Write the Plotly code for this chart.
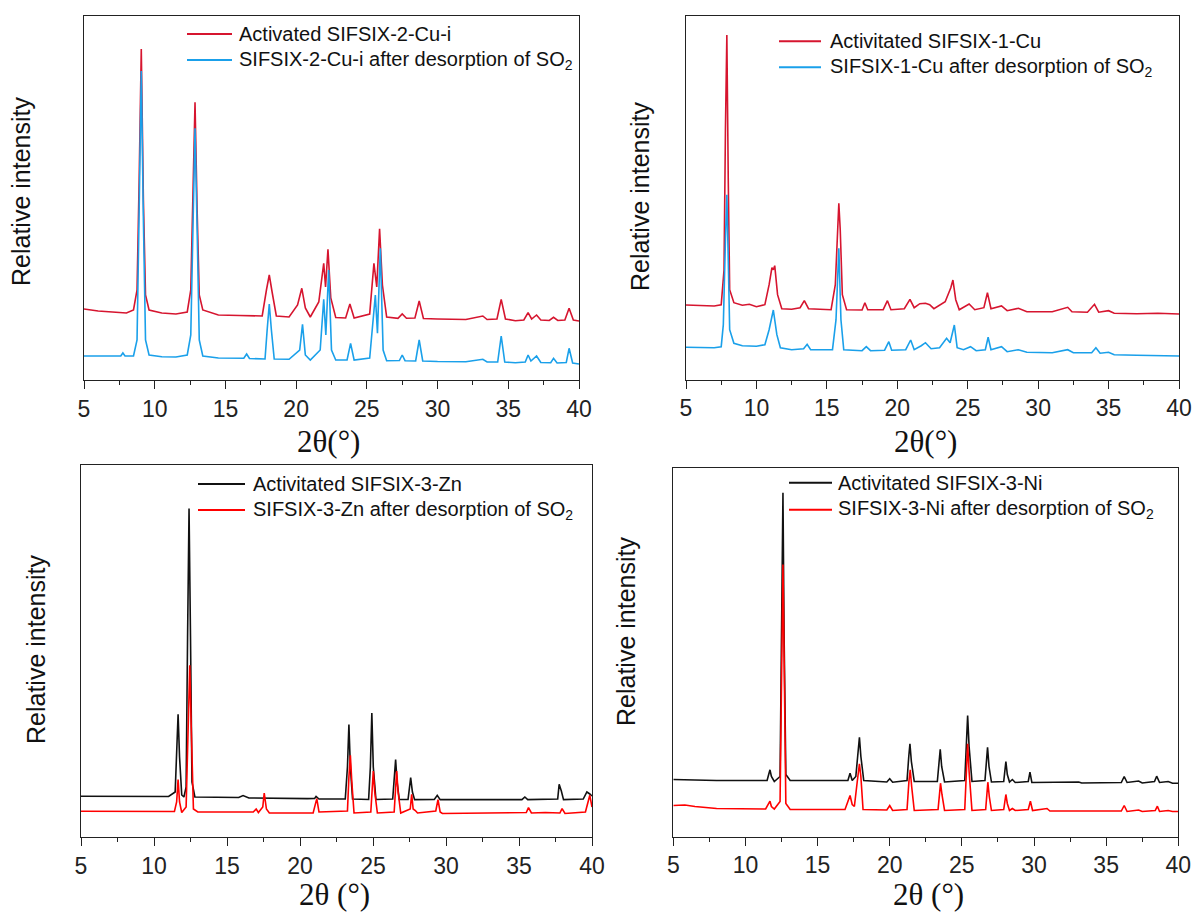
import plotly.graph_objects as go

# ---------------- data (2θ in degrees, relative intensity in arbitrary units) ----------------
p1_act = [(5,71),(6,69),(7,68),(8,67),(8.5,70),(8.75,90),(8.9,200),(9.05,331),(9.2,180),(9.35,85),(9.6,70),
          (10.5,67),(11.5,66),(12.3,68),(12.55,90),(12.7,180),(12.85,277.7),(13.0,170),(13.15,85),(13.4,70),
          (14.5,65),(16,64.5),(17.6,64),(17.9,90),(18.1,105),(18.3,88),(18.6,64),(19.5,63),(20.1,75),(20.4,91.7),
          (20.65,72),(21.0,63),(21.6,78),(21.95,116.7),(22.08,93),(22.25,130.7),(22.45,82),(22.8,62.5),(23.5,62),
          (23.8,76),(24.1,62),(25.2,66),(25.5,116.7),(25.7,93),(25.9,151.3),(26.1,95),(26.4,63),(27.2,61.7),
          (27.5,66),(27.8,61.7),(28.4,62),(28.7,79),(29.0,61.5),(30,61),(31,60.7),(32,60.5),(33.2,64),(33.5,60.5),
          (34.2,61),(34.5,80.7),(34.8,61),(35.5,59.3),(36.1,60),(36.4,67.3),(36.65,61),(37.0,65),(37.3,60),
          (37.9,59.5),(38.2,62.7),(38.5,59.5),(39.0,60),(39.3,71.7),(39.6,60),(40,59)]
p1_des = [(5,24),(6,24),(7,23.5),(7.6,24),(7.75,27),(7.9,24),(8.5,24),(8.75,40),(8.9,170),(9.05,309),(9.2,160),
          (9.35,40),(9.6,25),(10.5,23.3),(11.5,23),(12.3,25),(12.55,45),(12.7,150),(12.85,251.7),(13.0,150),
          (13.15,40),(13.4,24),(14.5,22),(16.3,21.7),(16.5,26),(16.7,21.5),(17.8,21),(17.95,50),(18.1,76),
          (18.25,50),(18.45,21),(19.5,20.7),(20.25,30),(20.45,55.7),(20.65,25),(21.0,20),(21.7,30),(21.95,80.7),
          (22.1,45),(22.3,110),(22.5,30),(22.8,20),(23.6,20),(23.85,36.7),(24.1,20),(25.2,22),(25.6,85),
          (25.75,46.7),(25.95,131.7),(26.15,30),(26.4,19.3),(27.3,19.5),(27.5,25),(27.7,19.3),(28.45,19),
          (28.7,40),(28.95,19),(30,18.5),(32,18.3),(33.2,20.7),(33.5,18),(34.25,18),(34.5,44),(34.75,18),
          (35.5,17.3),(36.2,18),(36.4,25),(36.6,19),(37.0,24),(37.3,17.5),(38.0,17.3),(38.2,21.7),(38.45,17),
          (39.1,17.5),(39.3,31.7),(39.55,17),(40,16)]

p2_act = [(5,74.7),(6,74),(7,73.7),(7.5,75),(7.7,110),(7.8,250),(7.9,344.7),(8.0,200),(8.1,90),(8.4,77),
          (9,74.5),(9.5,75.5),(10,73),(10.6,75),(10.9,95),(11.1,112),(11.2,110),(11.3,114),(11.5,85),(11.8,71),
          (12.5,70.4),(13.1,72),(13.4,79),(13.7,71),(15.3,70),(15.6,95),(15.75,150),(15.85,176.4),(15.95,150),
          (16.1,85),(16.4,70),(17.5,69.7),(17.7,77),(17.9,70),(19.0,70),(19.3,79),(19.55,70),(20.5,71),
          (20.9,80.4),(21.2,72),(21.6,76),(22.0,76.4),(22.3,75),(22.6,71),(23.4,78),(23.8,92),(23.95,99.7),
          (24.15,80),(24.4,70),(25.1,75.7),(25.5,70),(26.15,72),(26.4,87),(26.65,71),(27.4,73.7),(27.8,69),
          (28.6,71.4),(29.2,68),(31,68),(32.1,72.4),(32.4,68),(33.5,67.5),(34.0,75.4),(34.3,67.5),(35.0,69),
          (35.4,66.5),(37,66),(38.5,66.5),(40,65.7)]
p2_des = [(5,32.4),(6,32.2),(7,32),(7.5,33),(7.65,55),(7.8,140),(7.9,185),(8.0,120),(8.1,50),(8.4,36.4),
          (9,34),(10,33.5),(10.6,35),(10.9,50),(11.2,69.7),(11.45,45),(11.7,32),(12.5,30),(13.35,31),
          (13.6,35.4),(13.85,30),(15.4,30),(15.65,60),(15.85,131.4),(16.0,60),(16.2,30),(17.5,29),(17.8,33),
          (18.1,29),(19.1,29.5),(19.4,38),(19.6,29.5),(20.6,30),(20.95,39.7),(21.2,30),(21.7,34),(22.0,37),
          (22.4,31),(23.0,32),(23.5,41.4),(23.75,37),(24.05,54.7),(24.25,32),(24.7,30),(25.2,33),(25.6,29),
          (26.25,30),(26.45,42.4),(26.65,30),(27.4,33),(27.8,28),(28.6,30),(29.2,27.5),(31,27),(32.1,30),
          (32.5,27),(33.8,27),(34.1,32),(34.4,26.5),(35.0,27.5),(35.4,25),(37,24.5),(38.5,24),(40,23.7)]

p3_act = [(5,40.7),(8,40.5),(11.0,40.5),(11.45,45),(11.55,90),(11.65,122.7),(11.75,80),(11.9,42),(12.05,40),
          (12.2,50),(12.3,200),(12.4,328.4),(12.5,200),(12.6,55),(12.8,40),(14,39.5),(15.8,39.5),(16.1,41.5),
          (16.5,39),(20.5,38.4),(21.0,38.5),(21.1,40.5),(21.3,38),(23.1,38),(23.25,70),(23.35,112.4),
          (23.45,70),(23.6,38),(24.7,37.5),(24.82,70),(24.92,124),(25.02,70),(25.2,37.5),(26.35,38),
          (26.45,60),(26.55,77.4),(26.65,55),(26.8,37.5),(27.4,37.5),(27.5,52),(27.58,59.4),(27.7,45),
          (27.85,37.4),(29.2,37.5),(29.4,41.7),(29.6,37.4),(35.2,37.4),(35.4,40),(35.6,37.4),(37.65,38),
          (37.75,52.7),(37.9,46),(38.05,37.4),(39.4,38),(39.65,45),(39.85,43),(40,41)]
p3_des = [(5,25.7),(8,25.5),(11.4,25.5),(11.55,35),(11.65,57.4),(11.75,35),(11.9,24.5),(12.2,30),(12.35,120),
          (12.45,171.7),(12.55,110),(12.7,28),(13,25),(16.8,25),(17.0,28),(17.15,24.5),(17.45,30),(17.55,44),
          (17.7,28),(17.9,24),(20.9,24),(21.05,33),(21.15,38.4),(21.3,25),(23.25,26),(23.35,60),(23.45,81.7),
          (23.55,55),(23.7,24),(24.85,25),(24.95,50),(25.02,66),(25.12,45),(25.3,24),(26.45,25),(26.55,50),
          (26.62,66),(26.72,45),(26.9,24),(27.55,28),(27.65,42.7),(27.75,28),(27.9,26.5),(28.05,24),(29.3,26),
          (29.45,37.4),(29.6,25),(29.75,23.5),(34.5,24),(35.5,24.5),(35.65,29.4),(35.85,24),(36.8,24.5),
          (37.8,24),(37.95,28.4),(38.15,23.5),(39.55,25),(39.75,38),(39.85,41.7),(40,30)]

p4_act = [(5,57),(8,56),(11.5,56),(11.6,62),(11.7,66.7),(11.8,60),(12.0,55),(12.4,60),(12.52,200),(12.6,343.7),
          (12.68,200),(12.8,62),(13.1,56),(16,55.5),(17.1,56),(17.25,63.3),(17.4,56),(17.65,60),(17.8,85),
          (17.9,99.3),(18.0,80),(18.2,56),(19.8,54.5),(20.0,57.7),(20.2,54.3),(21.2,56),(21.32,80),(21.4,92.7),
          (21.5,75),(21.7,55),(23.3,55),(23.42,78),(23.5,87.3),(23.6,70),(23.8,54.5),(25.2,56),(25.32,100),
          (25.4,121),(25.5,90),(25.7,55),(26.6,56),(26.7,80),(26.78,89.3),(26.88,70),(27.05,54.5),(27.9,55),
          (28.0,70),(28.05,75),(28.15,62),(28.3,54.5),(28.5,57),(28.7,54),(29.6,55),(29.72,64.3),(29.85,54),
          (33.1,54.5),(33.3,53.5),(36.05,54),(36.25,60),(36.45,54),(37.25,55.5),(37.5,53.5),(38.35,55),
          (38.5,60.3),(38.7,54),(39.3,55),(39.6,53.3),(40,53.3)]
p4_des = [(5,31),(5.8,31.5),(6.5,30),(8,28),(11.4,27.5),(11.6,32),(11.7,35.3),(11.8,30),(12.0,27.5),(12.4,35),
          (12.52,180),(12.6,272),(12.68,180),(12.8,33),(13.1,27),(16.9,27),(17.1,35),(17.25,41),(17.4,32),
          (17.55,30),(17.75,55),(17.9,72.7),(18.0,60),(18.15,27),(19.8,26.5),(20.0,31),(20.2,26),(21.2,27),
          (21.33,55),(21.42,66.7),(21.52,50),(21.7,26),(23.35,27),(23.45,45),(23.52,53.3),(23.62,42),(23.8,26),
          (25.2,27),(25.32,70),(25.4,92.7),(25.5,65),(25.7,26),(26.65,27),(26.75,48),(26.8,54.3),(26.9,40),
          (27.05,26),(27.9,27),(28.05,42),(28.15,33),(28.3,26),(28.5,28),(28.7,26),(29.6,27),(29.75,35.3),
          (29.9,26),(30.9,28),(31.1,25.5),(36.05,25.5),(36.25,31),(36.45,25),(37.25,26.5),(37.5,25),(38.4,26),
          (38.55,30.3),(38.7,25),(39.3,26),(39.6,25),(40,25)]

names = [
    ("Activated SIFSIX-2-Cu-i", "SIFSIX-2-Cu-i after desorption of SO<sub>2</sub>"),
    ("Activitated SIFSIX-1-Cu", "SIFSIX-1-Cu after desorption of SO<sub>2</sub>"),
    ("Activitated SIFSIX-3-Zn", "SIFSIX-3-Zn after desorption of SO<sub>2</sub>"),
    ("Activitated SIFSIX-3-Ni", "SIFSIX-3-Ni after desorption of SO<sub>2</sub>"),
]
series = [(p1_act, p1_des), (p2_act, p2_des), (p3_act, p3_des), (p4_act, p4_des)]
colors = [("#d6152f", "#1aa0ea"), ("#d6152f", "#1aa0ea"), ("#111111", "#ff0000"), ("#111111", "#ff0000")]
x_titles = ["2θ(°)", "2θ(°)", "2θ (°)", "2θ (°)"]

# ---------------- layout geometry (pixels of a 1197x916 canvas) ----------------
W, H = 1197, 916
boxes = [(84, 579, 15.5, 380), (686, 1179, 15.7, 379.7), (81, 592, 464.5, 837), (673.3, 1178.3, 468.3, 836.5)]
y_ranges = [(0, 364.5), (0, 364), (0, 372.5), (0, 368.2)]
# legend sample line: (x start, x end, y row1, y row2, text left)
legend_geo = [(187, 232, 34, 60, 237), (779, 821, 41.3, 67.3, 828), (198, 245, 484, 510, 251),
              (789, 832, 482.7, 509.7, 836)]
ytitle_pos = [(21, 192), (640, 197), (36, 650), (626, 632)]
xtitle_pos = [(328, 441), (925, 441), (334, 894), (928, 894)]

SANS = "Liberation Sans, Arial"
fig = go.Figure()
annotations = []
shapes = []
for i in range(4):
    xa = "x" if i == 0 else f"x{i+1}"
    ya = "y" if i == 0 else f"y{i+1}"
    for j, (data, name, col) in enumerate(zip(series[i], names[i], colors[i])):
        xs = [p[0] for p in data]
        ys = [p[1] for p in data]
        fig.add_trace(go.Scatter(x=xs, y=ys, mode="lines", name=name,
                                 line=dict(color=col, width=1.6),
                                 xaxis=xa, yaxis=ya, showlegend=False))
    l, r, t, b = boxes[i]
    dom_x = [l / W, r / W]
    dom_y = [1 - b / H, 1 - t / H]
    ax_common = dict(showgrid=False, zeroline=False, showline=True, linecolor="#222222",
                     linewidth=1.3, mirror=True)
    fig.layout[f"xaxis{'' if i == 0 else i+1}"] = dict(
        domain=dom_x, range=[5, 40], anchor=ya, dtick=5, tick0=5, ticks="outside", ticklen=8,
        tickwidth=1.3, tickcolor="#222222",
        minor=dict(dtick=2.5, ticks="outside", ticklen=4, tickwidth=1.3, tickcolor="#222222"),
        tickfont=dict(family=SANS, size=23, color="#222222"),
        automargin=False, **ax_common)
    fig.layout[f"yaxis{'' if i == 0 else i+1}"] = dict(
        domain=dom_y, range=list(y_ranges[i]), anchor=xa, showticklabels=False, ticks="",
        automargin=False, **ax_common)

    # legend (sample line + label) for this panel
    x0, x1, r1, r2, tx0 = legend_geo[i]
    for row_y, name, col in zip((r1, r2), names[i], colors[i]):
        shapes.append(dict(type="line", xref="paper", yref="paper", x0=x0 / W, x1=x1 / W,
                           y0=1 - row_y / H, y1=1 - row_y / H, line=dict(color=col, width=2)))
        annotations.append(dict(text=name, x=tx0 / W, y=1 - row_y / H, xref="paper", yref="paper",
                                showarrow=False, xanchor="left", yanchor="middle",
                                font=dict(family=SANS, size=20, color="#111111")))

    tx, ty = ytitle_pos[i]
    annotations.append(dict(text="Relative intensity", x=tx / W, y=1 - ty / H, xref="paper", yref="paper",
                            textangle=-90, showarrow=False, xanchor="center", yanchor="middle",
                            font=dict(family=SANS, size=25, color="#111111")))
    qx, qy = xtitle_pos[i]
    annotations.append(dict(text=x_titles[i], x=qx / W, y=1 - qy / H, xref="paper", yref="paper",
                            showarrow=False, xanchor="center", yanchor="middle",
                            font=dict(family="Liberation Serif, Times New Roman", size=31, color="#111111")))

fig.update_layout(width=W, height=H, margin=dict(l=0, r=0, t=0, b=0),
                  paper_bgcolor="white", plot_bgcolor="white", showlegend=False,
                  annotations=annotations, shapes=shapes)
fig.write_html("out.html")
